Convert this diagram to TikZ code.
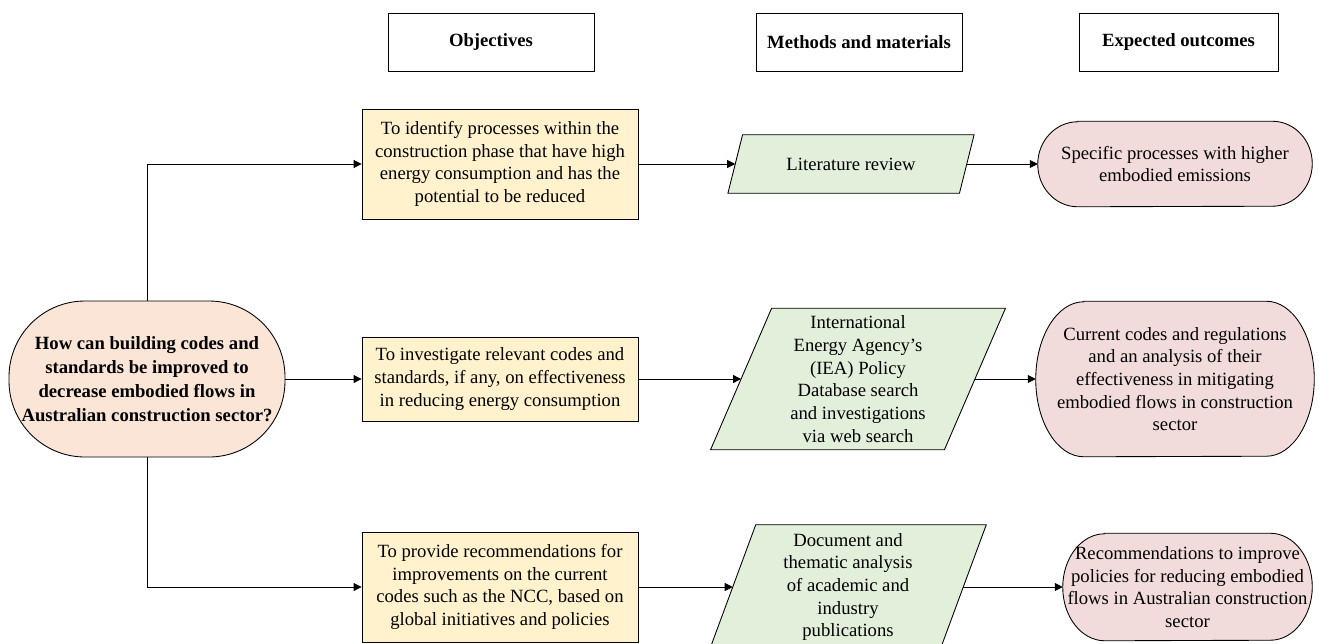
\documentclass[tikz,border=0pt]{standalone}
\usepackage{fontspec}
\setmainfont{Liberation Serif}
\usetikzlibrary{arrows.meta,calc,backgrounds}
\definecolor{qfill}{HTML}{FBE5D6}
\definecolor{ofill}{HTML}{FFF2CC}
\definecolor{mfill}{HTML}{E2EFDA}
\definecolor{efill}{HTML}{F2DCDB}
\newcommand\parashape[2]{%
  \path[mshape] ($(#1.north west)+(#2,0)$) -- ($(#1.north east)+(#2,0)$) -- ($(#1.south east)-(#2,0)$) -- ($(#1.south west)-(#2,0)$) -- cycle;}
\newcommand\termshape[3]{%
  \path[eshape] ($(#1.north west)+(#2,0)$) -- ($(#1.north east)-(#2,0)$) arc[start angle=90,end angle=-90,x radius=#2,y radius=#3] -- ($(#1.south west)+(#2,0)$) arc[start angle=270,end angle=90,x radius=#2,y radius=#3] -- cycle;}
\begin{document}
\begin{tikzpicture}[x=0.75pt,y=-0.75pt,
  txt/.style={font=\fontsize{14}{17}\selectfont, align=center, inner sep=0pt},
  header/.style={txt, draw, line width=0.65pt, fill=white, minimum height=43.5pt, font=\fontsize{14}{17}\selectfont\bfseries},
  question/.style={txt, draw, line width=0.65pt, fill=qfill, rounded corners=57pt, minimum width=207pt, minimum height=117pt, font=\fontsize{14}{18}\selectfont\bfseries},
  objbox/.style={txt, draw, line width=0.65pt, fill=ofill, minimum width=207pt},
  mshape/.style={draw, line width=0.65pt, fill=mfill},
  eshape/.style={draw, line width=0.65pt, fill=efill},
  conn/.style={line width=0.65pt, -{Triangle[length=6pt,width=6pt]}}]
\useasboundingbox (0,0) rectangle (1319,643);

% headers
\node[header, minimum width=154.5pt] (hobj) at (491,42) {Objectives};
\node[header, minimum width=154.5pt] (hmeth) at (859,42) {Methods and materials};
\node[header, minimum width=149.25pt] (hexp) at (1178.5,42) {Expected outcomes};

% question
\node[question] (q) at (147,379) {How can building codes and\\standards be improved to\\decrease embodied flows in\\Australian construction sector?};

% objectives
\node[objbox, minimum height=82.5pt] (o1) at (500,164) {To identify processes within the\\construction phase that have high\\energy consumption and has the\\potential to be reduced};
\node[objbox, minimum height=63pt] (o2) at (500,379) {To investigate relevant codes and\\standards, if any, on effectiveness\\in reducing energy consumption};
\node[objbox, minimum height=82.5pt] (o3) at (500,587) {To provide recommendations for\\improvements on the current\\codes such as the NCC, based on\\global initiatives and policies};

% methods
\node[txt, minimum width=173.25pt, minimum height=43.5pt] (m1) at (851,164) {Literature review};
\node[txt, minimum width=175pt, minimum height=105.75pt] (m2) at (858,379) {International\\Energy Agency’s\\(IEA) Policy\\Database search\\and investigations\\via web search};
\node[txt, minimum width=172.5pt, minimum height=93pt] (m3) at (848,587) {Document and\\thematic analysis\\of academic and\\industry\\publications};

% outcomes
\node[txt, minimum width=205.5pt, minimum height=63.75pt] (e1) at (1175,164) {Specific processes with higher\\embodied emissions};
\node[txt, minimum width=208.5pt, minimum height=116.25pt] (e2) at (1175,379) {Current codes and regulations\\and an analysis of their\\effectiveness in mitigating\\embodied flows in construction\\sector};
\node[txt, minimum width=186.75pt, minimum height=80.25pt] (e3) at (1187.5,587) {Recommendations to improve\\policies for reducing embodied\\flows in Australian construction\\sector};

\begin{scope}[on background layer]
  \parashape{m1}{5.5pt}
  \parashape{m2}{22.9pt}
  \parashape{m3}{17.25pt}
  \termshape{e1}{30pt}{31.875pt}
  \termshape{e2}{36pt}{58.125pt}
  \termshape{e3}{31.5pt}{40.125pt}
\end{scope}

% connectors
\draw[conn] (q.north) |- (o1.west);
\draw[conn] (q.east) -- (o2.west);
\draw[conn] (q.south) |- (o3.west);
\draw[conn] (o1.east) -- (m1.west);
\draw[conn] (o2.east) -- (m2.west);
\draw[conn] (o3.east) -- (m3.west);
\draw[conn] (m1.east) -- (e1.west);
\draw[conn] (m2.east) -- (e2.west);
\draw[conn] (m3.east) -- (e3.west);
\end{tikzpicture}
\end{document}
